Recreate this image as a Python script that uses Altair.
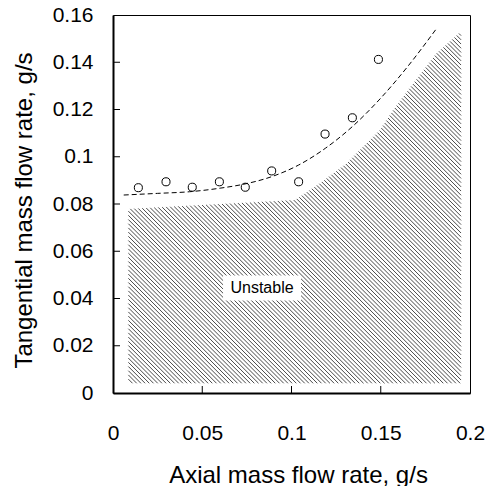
import numpy as np
import pandas as pd
import altair as alt

# ---- data ----
pt_x = [0.0142, 0.0297, 0.0444, 0.0596, 0.0741, 0.0889, 0.1040, 0.1188, 0.1341, 0.1487]
pt_y = [0.0869, 0.0894, 0.0871, 0.0894, 0.0871, 0.0940, 0.0894, 0.1096, 0.1165, 0.1412]

fit_x = [0.006, 0.025, 0.043, 0.060, 0.074, 0.089, 0.104, 0.119, 0.134, 0.149, 0.165, 0.181]
fit_y = [0.0838, 0.0845, 0.0852, 0.0867, 0.0885, 0.0916, 0.0965, 0.1036, 0.1127, 0.1240, 0.1381, 0.1540]

# upper boundary of the unstable (hatched) region
reg_x = [0.0086, 0.1020, 0.1048, 0.1160, 0.1309, 0.1402, 0.1496, 0.1570, 0.1683, 0.1813, 0.1950]
reg_y = [0.0779, 0.0817, 0.0831, 0.0888, 0.0972, 0.1043, 0.1113, 0.1198, 0.1311, 0.1438, 0.1530]
reg_bottom = 0.0041

label_x = [0.0835]
label_y = [0.0444]
label_text = ["Unstable"]

x_ticks = [0, 0.05, 0.1, 0.15, 0.2]
y_ticks = [0, 0.02, 0.04, 0.06, 0.08, 0.1, 0.12, 0.14, 0.16]
x_inner_ticks = [0.05, 0.1, 0.15]
y_inner_ticks = [0.02, 0.04, 0.06, 0.08, 0.1, 0.12, 0.14]

# ---- layout ----
W, H = 357, 378
XD, YD = [0, 0.2], [0, 0.16]
FONT = "Liberation Sans"

# ---- hatch lines clipped to the region ----
px_x = W / (XD[1] - XD[0])
px_y = H / (YD[1] - YD[0])
screen_slope = 1.0
k = screen_slope * px_x / px_y
step_px = 4.2
dc = k * step_px / px_x
x0, x1 = reg_x[0], reg_x[-1]
xs = np.linspace(x0, x1, 6001)
top = np.interp(xs, reg_x, reg_y)
c_min = reg_bottom + k * x0
c_max = max(reg_y) + k * x1
segs = []
c = c_min
while c <= c_max:
    line = c - k * xs
    inside = (line <= top) & (line >= reg_bottom)
    if inside.any():
        xa = xs[inside][0]
        xb = xs[inside][-1]
        if xb > xa:
            segs.append({"hx": xa, "hy": c - k * xa, "hx2": xb, "hy2": c - k * xb})
    c += dc
hatch_df = pd.DataFrame(segs)

pts_df = pd.DataFrame({"ax": pt_x, "tg": pt_y})
fit_df = pd.DataFrame({"ax": fit_x, "tg": fit_y})
lab_df = pd.DataFrame({"ax": label_x, "tg": label_y, "t": label_text})
xt_df = pd.DataFrame({"v": x_inner_ticks})
yt_df = pd.DataFrame({"v": y_inner_ticks})

x_axis = alt.Axis(
    title="Axial mass flow rate, g/s", values=x_ticks, format="~g", grid=False,
    ticks=False, tickSize=0, domainColor="black", domainWidth=2,
    labelFont=FONT, labelFontSize=21, labelColor="black", labelBaseline="alphabetic",
    labelPadding=46, labelFlush=False,
    titleFont=FONT, titleFontSize=24, titleFontWeight="normal", titleColor="black",
    titleBaseline="alphabetic", titleX=185, titleY=89, titleAnchor="middle",
)
y_axis = alt.Axis(
    title="Tangential mass flow rate, g/s", values=y_ticks, format="~g", grid=False,
    ticks=False, tickSize=0, domainColor="black", domainWidth=2,
    labelFont=FONT, labelFontSize=21, labelColor="black", labelPadding=20,
    labelBaseline="middle", labelFlush=False,
    titleFont=FONT, titleFontSize=24, titleFontWeight="normal", titleColor="black",
    titleBaseline="alphabetic", titleX=-82, titleY=195, titleAngle=270, titleAnchor="middle",
)
xs_scale = alt.Scale(domain=XD, nice=False, zero=False)
ys_scale = alt.Scale(domain=YD, nice=False, zero=False)


def X(f):
    return alt.X(f"{f}:Q", scale=xs_scale, axis=x_axis)


def Y(f):
    return alt.Y(f"{f}:Q", scale=ys_scale, axis=y_axis)


hatch = alt.Chart(hatch_df).mark_rule(stroke="#4a4a4a", strokeWidth=1.0).encode(
    x=X("hx"), y=Y("hy"), x2=alt.X2("hx2"), y2=alt.Y2("hy2")
)
box = alt.Chart(lab_df).mark_rect(fill="white", width=78, height=25).encode(
    x=X("ax"), y=Y("tg")
)
text = alt.Chart(lab_df).mark_text(font=FONT, fontSize=16, color="black").encode(
    x=X("ax"), y=Y("tg"), text="t:N"
)
fit = alt.Chart(fit_df).mark_line(color="black", strokeWidth=1, strokeDash=[5, 3],
                                  interpolate="monotone").encode(x=X("ax"), y=Y("tg"))
pts = alt.Chart(pts_df).mark_point(shape="circle", size=65, filled=False, color="black",
                                   strokeWidth=1, opacity=1).encode(x=X("ax"), y=Y("tg"))
yt = alt.Chart(yt_df).mark_rule(color="black", strokeWidth=1).encode(
    y=Y("v"), x=alt.value(0), x2=alt.value(7)
)
xt = alt.Chart(xt_df).mark_rule(color="black", strokeWidth=1).encode(
    x=X("v"), y=alt.value(H), y2=alt.value(H - 7)
)

chart = alt.layer(hatch, box, text, fit, pts, yt, xt).properties(
    width=W, height=H,
    autosize=alt.AutoSizeParams(type="none"),
    padding={"left": 113, "top": 15, "right": 20, "bottom": 93},
    background="white",
).configure_view(stroke="black", strokeWidth=1)

chart.save("out.html", embed_options={"renderer": "svg", "actions": False})
